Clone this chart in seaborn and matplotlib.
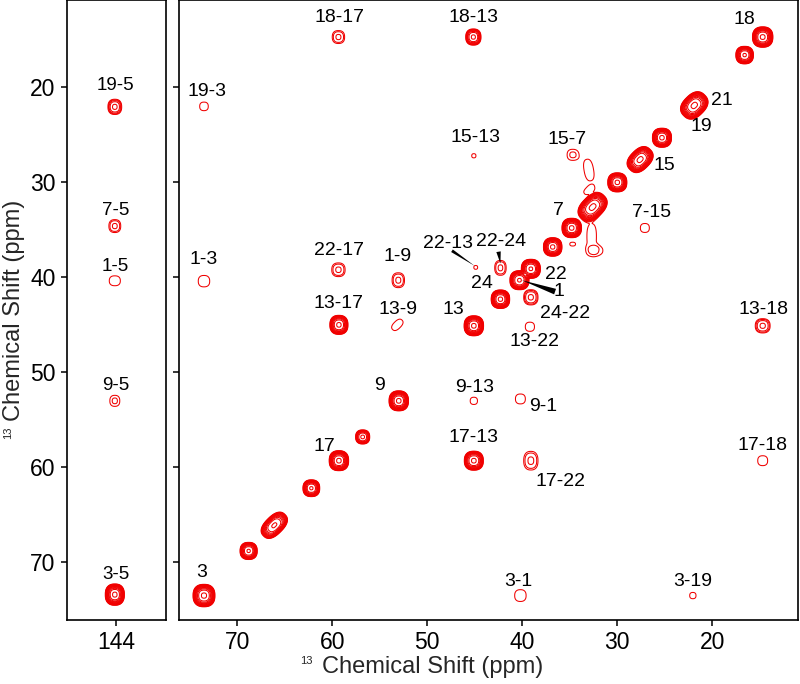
import numpy as np
import matplotlib
matplotlib.use("Agg")
import matplotlib.pyplot as plt
import seaborn as sns

# ---------------- data (ppm) ----------------
# diagonal peaks (f2 = f1)
diag_shift = [73.5, 68.8, 66.1, 62.2, 59.3, 56.8, 53.0, 45.1, 42.3, 40.3,
              39.1, 36.8, 34.8, 32.6, 30.0, 27.6, 25.3, 21.9, 16.6, 14.7]
diag_amp = [295, 180, 180, 180, 295, 45, 295, 295, 295, 180,
            180, 295, 295, 295, 295, 295, 295, 295, 180, 295]
diag_ra = [1.15, 0.9, 1.6, 0.88, 1.02, 0.74, 1.02, 1.02, 0.97, 1.0,
           1.0, 0.97, 1.02, 1.7, 1.0, 1.5, 1.0, 1.55, 0.92, 1.07]
diag_rb = [1.18, 0.9, 0.95, 0.88, 1.05, 0.74, 1.05, 1.05, 0.97, 1.0,
           1.0, 0.97, 1.02, 1.15, 1.0, 1.05, 1.0, 1.15, 0.92, 1.07]
diag_ang = [0, 0, 45, 0, 0, 0, 0, 0, 0, 0,
            0, 0, 0, 45, 0, 45, 0, 45, 0, 0]

# cross peaks (f2 = x, f1 = y)
cross_x = [59.35, 45.15, 73.5, 45.1, 34.7, 27.1, 73.5, 59.35, 53.05, 44.9,
           42.3, 39.1, 59.3, 53.15, 39.2, 14.7, 45.1, 40.2, 45.1, 39.1,
           14.7, 40.2, 22.05,
           34.7, 33.0, 33.05, 32.7, 32.2]
cross_y = [14.7, 14.7, 22.0, 27.2, 27.1, 34.8, 40.4, 39.2, 40.3, 38.95,
           39.0, 42.1, 45.0, 45.0, 45.2, 45.1, 53.0, 52.8, 59.3, 59.3,
           59.3, 73.5, 73.5,
           36.5, 28.7, 30.9, 35.7, 37.2]
cross_amp = [2.69, 28, 1.2, 1.1, 1.7, 1.2, 1.2, 2.69, 2.69, 1.1,
             2.69, 4.3, 115, 1.2, 1.2, 4.3, 1.2, 1.2, 115, 2.69,
             1.2, 1.2, 1.5,
             1.15, 1.15, 1.15, 1.15, 1.15]
cross_ra = [0.65, 0.8, 0.45, 0.22, 0.58, 0.47, 0.6, 0.7, 0.65, 0.2,
            0.6, 0.75, 0.95, 0.7, 0.48, 0.78, 0.38, 0.52, 1.0, 0.75,
            0.52, 0.6, 0.33,
            0.3, 0.5, 0.45, 0.5, 0.6]
cross_rb = [0.68, 0.85, 0.45, 0.22, 0.58, 0.47, 0.6, 0.72, 0.78, 0.2,
            0.78, 0.8, 1.0, 0.4, 0.48, 0.75, 0.38, 0.52, 1.0, 0.98,
            0.52, 0.62, 0.33,
            0.2, 1.15, 0.25, 1.35, 0.35]
cross_ang = [0, 0, 0, 0, 0, 0, 0, 0, 0, 0,
             0, 0, 0, 45, 0, 0, 0, 0, 0, 0,
             0, 0, 0,
             0, 10, 30, 0, 0]

# C5 strip (f2 = 144 ppm)
c5_x = 144.15
c5_y = [22.05, 34.6, 40.36, 53.0, 73.4]
c5_amp = [6.9, 2.69, 1.2, 1.7, 295]
c5_rx = [0.72, 0.62, 0.58, 0.52, 1.0]
c5_ry = [0.8, 0.68, 0.52, 0.58, 1.12]

# labels
lab_text = ["18-17", "18-13", "18", "19-3", "21", "19", "15-13", "15-7", "15",
            "7", "7-15", "1-3", "22-17", "1-9", "22-13", "22-24", "24", "22",
            "1", "24-22", "13-17", "13-9", "13", "13-22", "13-18", "9",
            "9-13", "9-1", "17", "17-13", "17-18", "17-22", "3", "3-1", "3-19"]
lab_x = [59.2, 45.1, 16.6, 73.2, 19.0, 21.2, 44.9, 35.3, 25.0,
         36.2, 26.4, 73.5, 59.3, 53.1, 47.8, 42.2, 44.2, 36.45,
         36.1, 35.5, 59.3, 53.05, 47.3, 38.7, 14.6, 55.0,
         45.0, 37.85, 60.8, 45.1, 14.7, 36.0, 73.75, 40.4, 22.05]
lab_y = [12.6, 12.6, 12.9, 20.4, 21.4, 24.1, 25.3, 25.5, 28.2,
         33.0, 33.2, 38.1, 37.2, 37.8, 36.4, 36.25, 40.6, 39.65,
         41.5, 43.8, 42.8, 43.4, 43.4, 46.8, 43.4, 51.4,
         51.6, 53.6, 57.8, 56.9, 57.65, 61.5, 71.1, 72.0, 72.0]

c5_lab_text = ["19-5", "7-5", "1-5", "9-5", "3-5"]
c5_lab_y = [19.8, 33.0, 38.9, 51.4, 71.3]

# pointer wedges: (text end) -> (peak)
wedge_from = [(47.4, 37.2), (42.5, 37.3), (36.55, 41.5)]
wedge_to = [(45.0, 38.8), (42.3, 38.55), (40.06, 40.3)]
wedge_w = [0.22, 0.32, 0.42]

ticks_main = [70, 60, 50, 40, 30, 20]
ticks_y = [20, 30, 40, 50, 60, 70]

# ---------------- style ----------------
sns.set_theme(style="ticks")
plt.rcParams["font.family"] = ["Liberation Sans", "DejaVu Sans"]
plt.rcParams["axes.edgecolor"] = "black"
plt.rcParams["axes.linewidth"] = 1.2
plt.rcParams["xtick.color"] = "black"
plt.rcParams["ytick.color"] = "black"
plt.rcParams["xtick.direction"] = "out"
plt.rcParams["ytick.direction"] = "out"

Q = 2.45     # superellipse shape of each contour
K = 3.3      # radial fall-off exponent
levels = 1.6 ** np.arange(0, 14)
RED = "#f00000"


def add_peak(Z, gx, gy, x0, y0, A, ra, rb, ang):
    s = np.log(A) ** (1.0 / K)
    wa, wb = ra / s, rb / s
    span = 2.0 * max(ra, rb) + 0.5
    ix = np.where(np.abs(gx - x0) < span)[0]
    iy = np.where(np.abs(gy - y0) < span)[0]
    if len(ix) == 0 or len(iy) == 0:
        return
    XX, YY = np.meshgrid(gx[ix], gy[iy])
    dx, dy = XX - x0, YY - y0
    t = np.deg2rad(ang)
    u = dx * np.cos(t) + dy * np.sin(t)
    v = -dx * np.sin(t) + dy * np.cos(t)
    r = (np.abs(u / wa) ** Q + np.abs(v / wb) ** Q) ** (1.0 / Q)
    Z[iy[0]:iy[-1] + 1, ix[0]:ix[-1] + 1] += A * np.exp(-r ** K)


fig = plt.figure(figsize=(8.0, 6.84), dpi=100)
axL = fig.add_axes([0.0834, 0.0936, 0.1238, 0.9064])
axR = fig.add_axes([0.2241, 0.0936, 0.7738, 0.9064])

YLIM = (76.07, 10.8)

# right panel field
gx = np.arange(10.5, 76.6, 0.035)
gy = np.arange(10.5, 76.6, 0.035)
Z = np.zeros((len(gy), len(gx)))
for s_, a_, ra_, rb_, an_ in zip(diag_shift, diag_amp, diag_ra, diag_rb, diag_ang):
    add_peak(Z, gx, gy, s_, s_, a_, ra_, rb_, an_)
for x_, y_, a_, ra_, rb_, an_ in zip(cross_x, cross_y, cross_amp, cross_ra, cross_rb, cross_ang):
    add_peak(Z, gx, gy, x_, y_, a_, ra_, rb_, an_)
axR.contour(gx, gy, Z, levels=levels, colors=RED, linewidths=0.75)

# left panel field
lx = np.arange(138.5, 149.5, 0.03)
ly = np.arange(10.5, 76.6, 0.03)
ZL = np.zeros((len(ly), len(lx)))
for y_, a_, rx_, ry_ in zip(c5_y, c5_amp, c5_rx, c5_ry):
    add_peak(ZL, lx, ly, c5_x, y_, a_, rx_, ry_, 0)
axL.contour(lx, ly, ZL, levels=levels, colors=RED, linewidths=0.75)

# labels
for t_, x_, y_ in zip(lab_text, lab_x, lab_y):
    axR.text(x_, y_, t_, ha="center", va="center", fontsize=14, color="black")
for t_, y_ in zip(c5_lab_text, c5_lab_y):
    axL.text(144.07, y_, t_, ha="center", va="center", fontsize=13.5, color="black")
for (x0, y0), (x1, y1), w in zip(wedge_from, wedge_to, wedge_w):
    axR.annotate("", xy=(x1, y1), xytext=(x0, y0),
                 arrowprops=dict(arrowstyle=f"wedge,tail_width={w}", fc="black",
                                 ec="black", lw=0, shrinkA=0, shrinkB=0,
                                 mutation_scale=10))

# axes
axR.set_xlim(76.1, 10.95)
axR.set_ylim(*YLIM)
axR.set_xticks(ticks_main)
axR.set_yticks(ticks_y)
axR.set_yticklabels([])
axL.set_xlim(149.2, 138.8)
axL.set_ylim(*YLIM)
axL.set_xticks([144])
axL.set_yticks(ticks_y)
for ax in (axL, axR):
    ax.tick_params(axis="both", length=4.5, width=1.1, labelsize=16.5, pad=3.5)
    for sp in ax.spines.values():
        sp.set_visible(True)
        sp.set_linewidth(1.2)
        sp.set_color("black")

# axis titles
W, H = 800.0, 684.0
xt = fig.text(0.5414, 0.0249, "Chemical Shift (ppm)", ha="center", va="center", fontsize=17)
yt = fig.text(14 / W, 0.5468, "Chemical Shift (ppm)", ha="center", va="center",
              rotation=90, fontsize=17)
fig.canvas.draw()
r = fig.canvas.get_renderer()
bx = xt.get_window_extent(r)
by = yt.get_window_extent(r)
fig.text((bx.x0 - 10) / W, (H - 656.0) / H, "13", ha="right", va="top", fontsize=8)
fig.text(3.0 / W, (by.y0 - 6) / H, "13", ha="left", va="top", rotation=90, fontsize=8)

fig.savefig("out.png", dpi=100)
